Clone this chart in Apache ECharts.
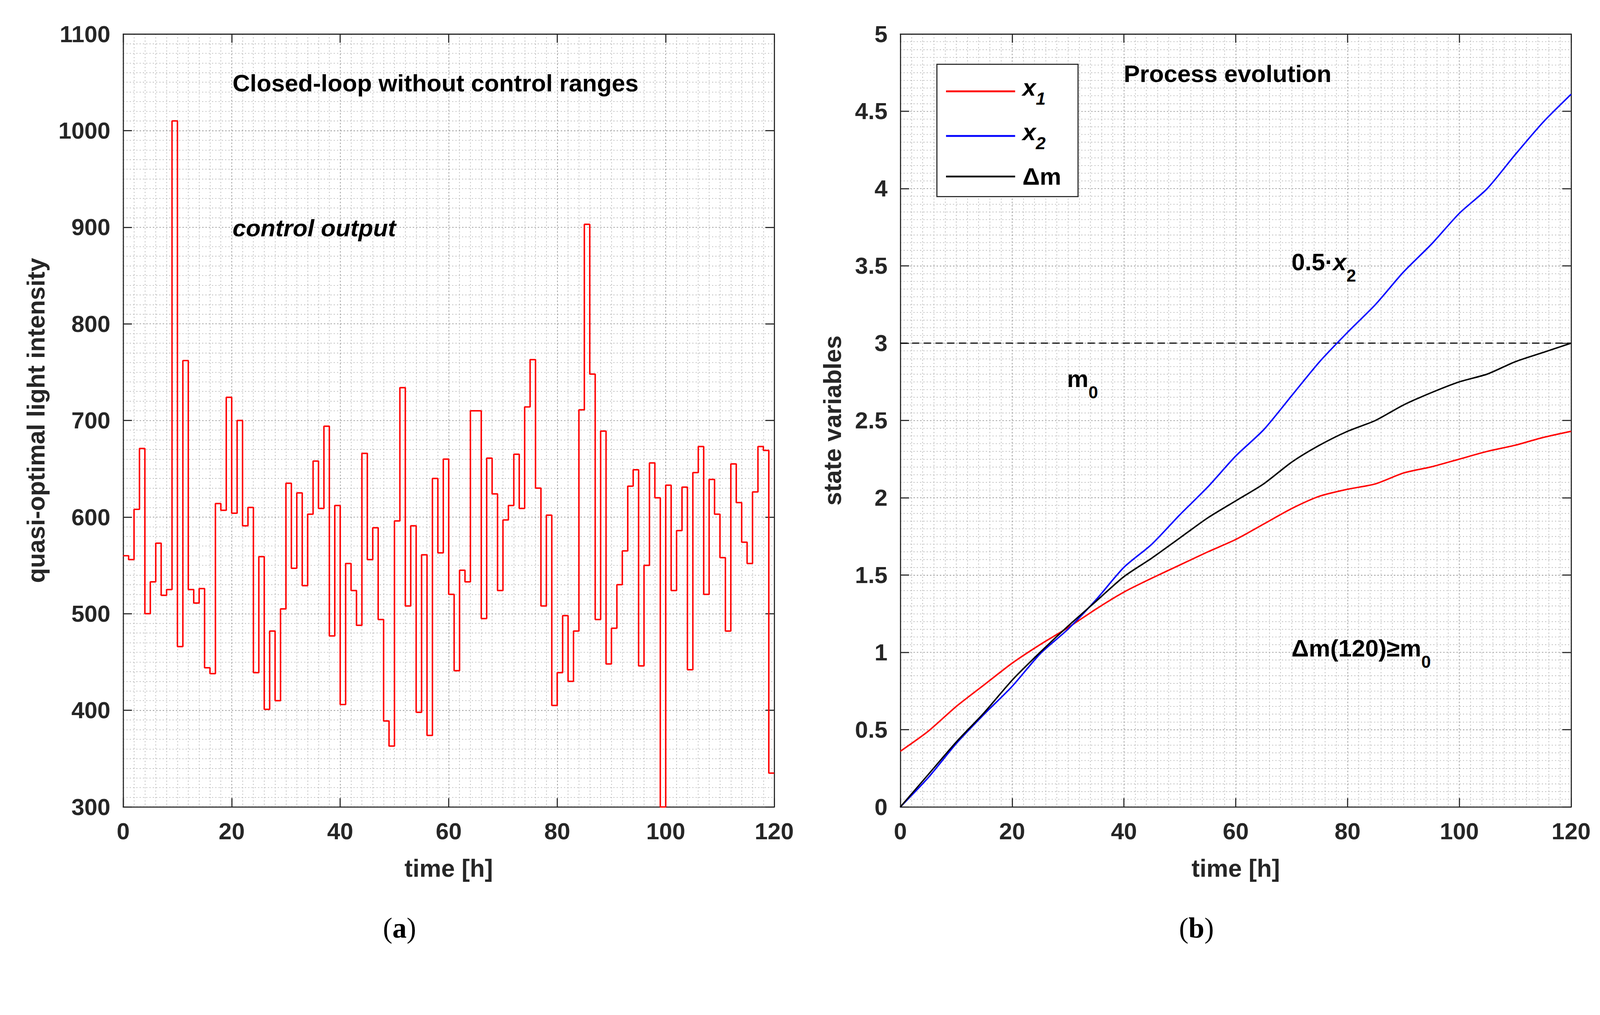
<!DOCTYPE html>
<html>
<head>
<meta charset="utf-8">
<title>Closed-loop light intensity and process evolution</title>
<script src="https://cdn.jsdelivr.net/npm/echarts@6/dist/echarts.min.js"></script>
<style>
  html, body { margin: 0; padding: 0; background: #fff; overflow: hidden; }
  #chart { width: 4377px; height: 2599px; transform-origin: 0 0; }
</style>
</head>
<body>
<div id="chart"></div>
<script>
    // ---------- (a) control output: one value per 1 h control interval, t = 0..119 h ----------
    const controlStepHours = 1;
    const lightIntensity = [
      560, 556, 608, 671, 500, 533, 573, 519, 525, 1010,
      466, 762, 525, 511, 526, 444, 438, 614, 607, 724,
      604, 700, 591, 610, 439, 559, 401, 482, 410, 505,
      635, 547, 625, 529, 603, 658, 609, 694, 477, 612,
      406, 552, 524, 488, 666, 556, 589, 494, 389, 363,
      596, 734, 508, 591, 398, 561, 374, 640, 563, 660,
      520, 441, 545, 533, 710, 710, 495, 661, 624, 524,
      597, 612, 665, 609, 714, 763, 630, 508, 602, 405,
      439, 498, 430, 482, 711, 903, 748, 494, 689, 448,
      485, 530, 565, 632, 649, 446, 550, 656, 620, 300,
      633, 524, 586, 631, 442, 646, 673, 520, 639, 603,
      558, 482, 655, 615, 574, 552, 626, 673, 669, 335
    ];

    // ---------- (b) process evolution ----------
    const stateTimes = [0, 5, 10, 15, 20, 25, 30, 35, 40, 45, 50, 55, 60,
                        65, 70, 75, 80, 85, 90, 95, 100, 105, 110, 115, 120];
    const x1Values = [0.36, 0.49, 0.65, 0.79, 0.93, 1.05, 1.16, 1.28, 1.39, 1.48, 1.565, 1.65, 1.73,
                      1.83, 1.93, 2.01, 2.055, 2.09, 2.16, 2.20, 2.25, 2.30, 2.34, 2.39, 2.43];
    const x2Values = [0.00, 0.19, 0.41, 0.60, 0.78, 0.99, 1.15, 1.34, 1.55, 1.70, 1.89, 2.07, 2.27,
                      2.44, 2.66, 2.88, 3.07, 3.25, 3.46, 3.64, 3.84, 4.00, 4.22, 4.43, 4.61];
    const dmValues = [0.00, 0.21, 0.42, 0.61, 0.82, 1.00, 1.17, 1.33, 1.49, 1.61, 1.74, 1.87, 1.98,
                      2.09, 2.23, 2.34, 2.43, 2.50, 2.60, 2.68, 2.75, 2.80, 2.88, 2.94, 3.00];
    const m0Level = 3;
    const timeRange = [0, 120];

    const FONT = "'Liberation Sans', Arial, Helvetica, sans-serif";
    const SERIF = "'Liberation Serif', 'Times New Roman', serif";
    const AXIS_COLOR = '#262626';

    // step data: value holds over [t, t + step]; last point closes the final interval
    const stepData = lightIntensity.map((v, i) => [i * controlStepHours, v]);
    stepData.push([lightIntensity.length * controlStepHours, lightIntensity[lightIntensity.length - 1]]);
    const pairs = (ts, vs) => ts.map((t, i) => [t, vs[i]]);

    function mainAxis(gridIndex, min, max, interval, extra) {
      return Object.assign({
        type: 'value', gridIndex, min, max, interval,
        axisLine: { show: true, onZero: false, lineStyle: { color: AXIS_COLOR, width: 3 } },
        axisTick: { show: true, inside: true, length: 24, lineStyle: { color: AXIS_COLOR, width: 3 } },
        minorTick: { show: false, splitNumber: 10 },
        axisLabel: {
          show: true, margin: 35, fontSize: 64, fontWeight: 'bold', fontFamily: FONT, color: AXIS_COLOR,
          showMinLabel: true, showMaxLabel: true, formatter: v => String(v)
        },
        splitLine: { show: true, lineStyle: { color: '#999999', width: 2, type: [4, 5] } },
        minorSplitLine: { show: true, lineStyle: { color: '#b8b8b8', width: 2, type: [3, 6] } },
        nameLocation: 'middle',
        nameTextStyle: { fontSize: 67, fontWeight: 'bold', fontFamily: FONT, color: AXIS_COLOR }
      }, extra || {});
    }

    function mirrorAxis(gridIndex, min, max, interval, position) {
      return {
        type: 'value', gridIndex, min, max, interval, position,
        axisLine: { show: true, onZero: false, lineStyle: { color: AXIS_COLOR, width: 3 } },
        axisTick: { show: true, inside: true, length: 24, lineStyle: { color: AXIS_COLOR, width: 3 } },
        axisLabel: { show: false },
        splitLine: { show: false }
      };
    }

    const subMain = { fontSize: 66, fontWeight: 'bold', fontFamily: FONT, color: '#000', verticalAlign: 'top' };
    const subIt = Object.assign({}, subMain, { fontStyle: 'italic' });
    const subSmall = { fontSize: 47, fontWeight: 'bold', fontFamily: FONT, color: '#000', verticalAlign: 'top', padding: [47, 0, 0, 0] };

    function plainText(x, y, text, size, italic) {
      return {
        type: 'text', x, y, z: 100,
        style: {
          text, fontSize: size, fontWeight: 'bold', fontStyle: italic ? 'italic' : 'normal',
          fontFamily: FONT, fill: '#000', align: 'left', verticalAlign: 'middle'
        }
      };
    }
    function richText(x, baseline, text) {
      return {
        type: 'text', x, y: baseline - 56, z: 100,
        style: {
          text, align: 'left', verticalAlign: 'top',
          rich: { n: subMain, i: subIt, s: subSmall }
        }
      };
    }
    function panelLabel(x, y, letter) {
      return {
        type: 'text', x, y, z: 100,
        style: {
          text: `{p|(}{b|${letter}}{p|)}`, align: 'center', verticalAlign: 'middle',
          rich: {
            p: { fontSize: 78, fontFamily: SERIF, color: '#000' },
            b: { fontSize: 78, fontFamily: SERIF, fontWeight: 'bold', color: '#000' }
          }
        }
      };
    }

    // fit the 4377 x 2599 drawing into whatever CSS viewport the browser gives
    const holder = document.getElementById('chart');
    const fit = Math.min(window.innerWidth / 4377, window.innerHeight / 2599);
    holder.style.transform = `scale(${fit})`;

    const chart = echarts.init(holder, null, { renderer: 'svg', width: 4377, height: 2599 });

    chart.setOption({
      animation: false,
      backgroundColor: '#fff',
      grid: [
        { left: 337, top: 93, width: 1781, height: 2115, show: false },
        { left: 2463, top: 93, width: 1835, height: 2115, show: false }
      ],
      xAxis: [
        mainAxis(0, timeRange[0], timeRange[1], 20, { position: 'bottom', name: 'time [h]', nameGap: 134 }),
        mainAxis(1, timeRange[0], timeRange[1], 20, { position: 'bottom', name: 'time [h]', nameGap: 134 }),
        mirrorAxis(0, timeRange[0], timeRange[1], 20, 'top'),
        mirrorAxis(1, timeRange[0], timeRange[1], 20, 'top')
      ],
      yAxis: [
        mainAxis(0, 300, 1100, 100, { position: 'left', name: 'quasi-optimal light intensity', nameGap: 205 }),
        mainAxis(1, 0, 5, 0.5, { position: 'left', name: 'state variables', nameGap: 152 }),
        mirrorAxis(0, 300, 1100, 100, 'right'),
        mirrorAxis(1, 0, 5, 0.5, 'right')
      ],
      legend: {
        data: ['x1', 'x2', 'Δm'],
        orient: 'vertical',
        left: 2563, top: 176,
        padding: [30, 46, 22, 25],
        itemGap: 34,
        itemWidth: 189, itemHeight: 5,
        icon: 'rect',
        selectedMode: false,
        backgroundColor: '#fff',
        borderColor: AXIS_COLOR, borderWidth: 3, borderRadius: 0,
        formatter: name => name === 'Δm' ? '{n|Δm}' : `{i|x}{s|${name.slice(1)}}`,
        textStyle: {
          padding: [0, 0, 0, 15],
          rich: {
            n: { fontSize: 66, fontWeight: 'bold', fontFamily: FONT, color: '#000', verticalAlign: 'top' },
            i: { fontSize: 66, fontWeight: 'bold', fontStyle: 'italic', fontFamily: FONT, color: '#000', verticalAlign: 'top' },
            s: { fontSize: 48, fontWeight: 'bold', fontStyle: 'italic', fontFamily: FONT, color: '#000', verticalAlign: 'top', padding: [40, 0, 0, 0] }
          }
        }
      },
      series: [
        {
          name: 'control output', type: 'line', xAxisIndex: 0, yAxisIndex: 0,
          data: stepData, step: 'end', showSymbol: false, silent: true,
          lineStyle: { color: '#ff0000', width: 4 }, itemStyle: { color: '#ff0000' }
        },
        {
          name: 'm0', type: 'line', xAxisIndex: 1, yAxisIndex: 1,
          data: timeRange.map(t => [t, m0Level]), showSymbol: false, silent: true,
          lineStyle: { color: '#000', width: 3, type: [20, 12] }, itemStyle: { color: '#000' }
        },
        {
          name: 'x1', type: 'line', xAxisIndex: 1, yAxisIndex: 1,
          data: pairs(stateTimes, x1Values), showSymbol: false, silent: true, smooth: 0.25,
          lineStyle: { color: '#ff0000', width: 4 }, itemStyle: { color: '#ff0000' }
        },
        {
          name: 'x2', type: 'line', xAxisIndex: 1, yAxisIndex: 1,
          data: pairs(stateTimes, x2Values), showSymbol: false, silent: true, smooth: 0.25,
          lineStyle: { color: '#0000ff', width: 4 }, itemStyle: { color: '#0000ff' }
        },
        {
          name: 'Δm', type: 'line', xAxisIndex: 1, yAxisIndex: 1,
          data: pairs(stateTimes, dmValues), showSymbol: false, silent: true, smooth: 0.25,
          lineStyle: { color: '#000000', width: 4 }, itemStyle: { color: '#000000' }
        }
      ],
      graphic: [
        plainText(636, 227, 'Closed-loop without control ranges', 66, false),
        plainText(636, 624, 'control output', 66, true),
        plainText(3074, 201, 'Process evolution', 66, false),
        richText(3533, 739, '{n|0.5·}{i|x}{s|2}'),
        richText(2919, 1059, '{n|m}{s|0}'),
        richText(3533, 1796, '{n|Δm(120)≥m}{s|0}'),
        panelLabel(1093, 2540, 'a'),
        panelLabel(3273, 2540, 'b')
      ]
    });
</script>
</body>
</html>
